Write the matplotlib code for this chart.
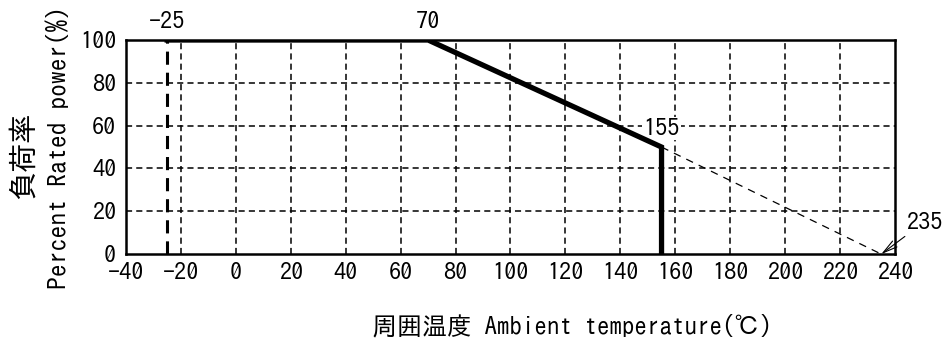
import numpy as np
import matplotlib.pyplot as plt

plt.rcParams['font.family'] = ['IPAGothic', 'DejaVu Sans']

# data
curve_temp = [-25, 70, 155, 155]
curve_power = [100, 100, 50, 0]
ext_temp = [155, 235]
ext_power = [50, 0]
min_temp = -25
xticks = list(range(-40, 241, 20))
yticks = list(range(0, 101, 20))

fig = plt.figure(figsize=(9.5, 3.42), dpi=100)
ax = fig.add_axes([0.1326, 0.257, 0.8095, 0.626])

# grid
for x in range(-20, 240, 20):
    ax.plot([x, x], [0, 100], color='black', lw=1.1, ls=(0, (4, 2.7)), zorder=1)
for y in range(20, 100, 20):
    ax.plot([-40, 240], [y, y], color='black', lw=1.1, ls=(0, (4, 2.7)), zorder=1)

ax.plot([min_temp, min_temp], [0, 100], color='black', lw=2.2, ls=(0, (4.3, 2.6)), zorder=2)
ax.plot(curve_temp, curve_power, color='black', lw=3.8, solid_joinstyle='miter', zorder=3)
ax.plot(ext_temp, ext_power, color='black', lw=0.9, ls=(0, (6, 5)), zorder=2)

ax.text(-25, 104, '-25', ha='center', va='bottom', fontsize=17.5)
ax.text(70, 104, '70', ha='center', va='bottom', fontsize=17.5)
ax.text(155, 54, '155', ha='center', va='bottom', fontsize=17.5, zorder=2.5,
        bbox=dict(facecolor='white', edgecolor='none', pad=1))
ax.annotate('235', xy=(235, 0), xytext=(244, 15), fontsize=17.5, ha='left', va='center',
            arrowprops=dict(arrowstyle='->,head_length=0.6,head_width=0.15', color='black',
                            lw=0.8, shrinkA=2, shrinkB=0),
            annotation_clip=False)

ax.set_xlim(-40, 240)
ax.set_ylim(0, 100)
ax.set_xticks(xticks)
ax.set_xticklabels([str(t) for t in xticks])
ax.set_yticks(yticks)
ax.tick_params(length=0, labelsize=17.5)
ax.tick_params(axis='x', pad=6)
ax.tick_params(axis='y', pad=7)
for s in ax.spines.values():
    s.set_linewidth(1.8)

ax.set_xlabel('周囲温度 Ambient temperature(℃)', fontsize=18, va='center')
ax.xaxis.set_label_coords(0.58, -0.33)
ax.set_ylabel('Percent Rated power(%)', fontsize=18.5, va='center')
ax.yaxis.set_label_coords(-0.089, 0.5)
fig.text(21 / 950, 1 - 155 / 342, '負荷率', rotation=90, fontsize=21,
         ha='center', va='center')

fig.savefig('out.png', dpi=100)
